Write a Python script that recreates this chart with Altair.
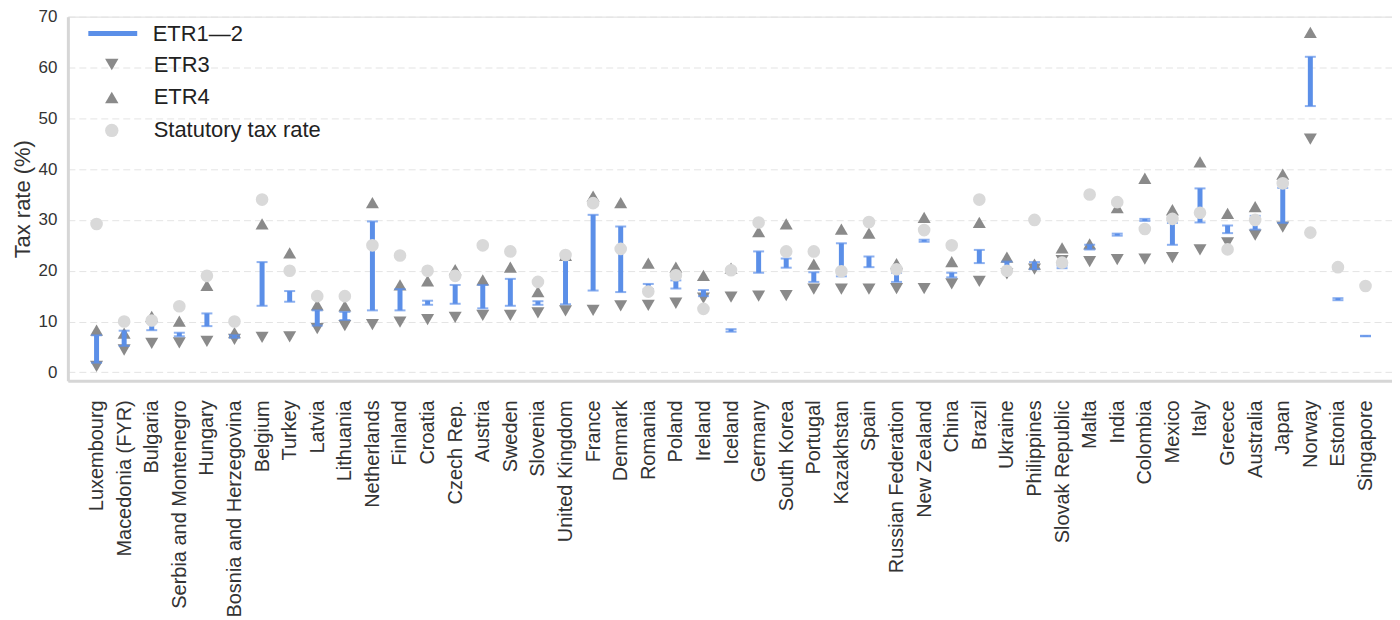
import altair as alt
import pandas as pd

countries = [
    "Luxembourg", "Macedonia (FYR)", "Bulgaria", "Serbia and Montenegro", "Hungary",
    "Bosnia and Herzegovina", "Belgium", "Turkey", "Latvia", "Lithuania", "Netherlands",
    "Finland", "Croatia", "Czech Rep.", "Austria", "Sweden", "Slovenia", "United Kingdom",
    "France", "Denmark", "Romania", "Poland", "Ireland", "Iceland", "Germany",
    "South Korea", "Portugal", "Kazakhstan", "Spain", "Russian Federation", "New Zealand",
    "China", "Brazil", "Ukraine", "Philippines", "Slovak Republic", "Malta", "India",
    "Colombia", "Mexico", "Italy", "Greece", "Australia", "Japan", "Norway", "Estonia",
    "Singapore",
]
etr1 = [1.9, 5.2, 8.3, 7.1, 9.1, 6.8, 13.1, 13.9, 9.2, 10.3, 12.2, 12.2, 13.3, 13.5, 12.6,
        13.1, 13.3, 13.4, 16.1, 15.8, 16.4, 16.5, 15.0, 8.0, 19.6, 20.6, 17.8, 18.9, 20.7,
        17.8, 25.7, 18.7, 21.5, 19.9, 20.3, 20.5, 24.2, 26.9, 29.8, 25.1, 29.5, 27.4, 28.1,
        29.4, 52.4, 14.2, 7.1]
etr2 = [7.3, 8.2, 9.8, 7.8, 11.6, 7.3, 21.7, 16.0, 12.2, 11.9, 29.7, 16.4, 14.1, 17.2, 17.2,
        18.4, 14.0, 22.7, 31.0, 28.7, 17.4, 18.1, 16.2, 8.5, 23.8, 22.4, 19.7, 25.4, 22.8,
        19.6, 26.1, 19.6, 24.1, 21.8, 21.7, 21.0, 25.1, 27.3, 30.2, 29.4, 36.2, 28.9, 30.8,
        36.3, 62.1, 14.6, 7.2]
etr3 = [1.2, 4.4, 5.7, 5.8, 6.1, 6.5, 6.9, 7.0, 8.6, 9.2, 9.4, 9.9, 10.4, 10.8, 11.2,
        11.2, 11.7, 12.1, 12.2, 13.1, 13.2, 13.6, 14.6, 14.8, 15.0, 15.1, 16.4, 16.4, 16.4,
        16.5, 16.5, 17.4, 17.9, 19.4, 20.3, 22.0, 21.8, 22.2, 22.3, 22.6, 24.1, 25.5, 27.0,
        28.6, 45.9, None, None]
etr4 = [8.3, 7.7, 11.0, 10.1, 17.1, 7.8, 29.2, 23.5, 13.3, 13.1, 33.4, 17.2, 18.0, 20.2, 18.2,
        20.7, 15.9, 23.0, 34.7, 33.4, 21.5, 20.7, 19.1, 20.5, 27.7, 29.2, 21.3, 28.2, 27.4,
        21.4, 30.5, 21.8, 29.5, 22.7, 21.3, 24.5, 25.3, 32.4, 38.2, 32.0, 41.4, 31.3, 32.6,
        39.0, 66.9, None, None]
statutory = [29.2, 10.0, 10.2, 13.0, 19.0, 10.0, 34.0, 20.0, 15.0, 15.0, 25.0, 23.0, 20.0,
             19.0, 25.0, 23.8, 17.8, 23.1, 33.3, 24.3, 15.9, 19.1, 12.5, 20.1, 29.5, 23.8,
             23.8, 19.9, 29.6, 20.3, 28.0, 25.0, 34.0, 20.0, 30.0, 21.6, 35.0, 33.5, 28.2,
             30.2, 31.4, 24.2, 30.0, 37.2, 27.5, 20.7, 17.0]

BLUE = "#5b8fe8"
GRAY = "#8a8a8a"
LIGHT = "#d9d9d9"
FONT = "Liberation Sans"

wide = pd.DataFrame({"country": countries, "etr1": etr1, "etr2": etr2})
tri_df = pd.concat([
    pd.DataFrame({"country": countries, "value": etr3, "series": "ETR3"}),
    pd.DataFrame({"country": countries, "value": etr4, "series": "ETR4"}),
]).dropna()
stat_df = pd.DataFrame({"country": countries, "value": statutory, "series": "Statutory tax rate"})

x_enc = alt.X(
    "country:N", sort=countries,
    scale=alt.Scale(type="point", padding=2.27, align=0.52),
    axis=alt.Axis(title=None, labelAngle=-90, labelFontSize=20, labelColor="#333333",
                  labelPadding=19, ticks=False, domainColor="#d6d6d6", domainWidth=3,
                  labelFont=FONT, grid=False, labelLimit=400),
)
y_scale = alt.Scale(domain=[-1.67, 70], nice=False, zero=False)
y_axis = alt.Axis(title="Tax rate (%)", values=list(range(0, 80, 10)), titleFontSize=22,
                  titleFontWeight="normal", titleColor="#333333", titleFont=FONT,
                  titlePadding=4, labelFontSize=17, labelColor="#333333", labelFont=FONT,
                  labelPadding=11, ticks=False, domainColor="#d6d6d6", domainWidth=3,
                  grid=True, gridColor="#e4e4e4", gridDash=[7, 4], gridWidth=1)

ser_domain = ["ETR3", "ETR4", "Statutory tax rate"]
shape_scale = alt.Scale(domain=ser_domain, range=["triangle-down", "triangle-up", "circle"])
color_scale = alt.Scale(domain=ser_domain, range=[GRAY, GRAY, LIGHT])
pt_legend = alt.Legend(title=None, orient="none", legendX=33, legendY=37, labelFontSize=22,
                       labelColor="#222222", labelFont=FONT, symbolSize=180, labelLimit=400,
                       labelOffset=31, rowPadding=11, symbolStrokeWidth=0, padding=0)

tri = alt.Chart(tri_df).mark_point(filled=True, size=170, opacity=1).encode(
    x=x_enc,
    y=alt.Y("value:Q", scale=y_scale, axis=y_axis),
    shape=alt.Shape("series:N", scale=shape_scale, legend=pt_legend),
    color=alt.Color("series:N", scale=color_scale, legend=pt_legend),
)

bars = alt.Chart(wide).transform_calculate(bar_series="'ETR1—2'").mark_rule(
    color=BLUE, strokeWidth=5).encode(
    x=x_enc,
    y=alt.Y("etr1:Q", scale=y_scale),
    y2="etr2:Q",
    opacity=alt.Opacity(
        "bar_series:O", scale=alt.Scale(domain=["ETR1—2"], range=[1]),
        legend=alt.Legend(title=None, orient="none", legendX=18, legendY=-10, labelFontSize=22,
                          labelColor="#222222", labelFont=FONT, symbolType="stroke",
                          symbolSize=2401, symbolStrokeColor=BLUE, symbolStrokeWidth=5,
                          labelOffset=13, padding=0, labelLimit=400),
    ),
)

caps_lo = alt.Chart(wide).mark_tick(color=BLUE, size=11, thickness=2).encode(
    x=x_enc, y=alt.Y("etr1:Q", scale=y_scale))
caps_hi = alt.Chart(wide).mark_tick(color=BLUE, size=11, thickness=2).encode(
    x=x_enc, y=alt.Y("etr2:Q", scale=y_scale))

circles = alt.Chart(stat_df).mark_point(filled=True, size=160, opacity=1).encode(
    x=x_enc,
    y=alt.Y("value:Q", scale=y_scale),
    shape=alt.Shape("series:N", scale=shape_scale, legend=pt_legend),
    color=alt.Color("series:N", scale=color_scale, legend=pt_legend),
)

chart = alt.layer(tri, bars, caps_lo, caps_hi, circles).properties(
    width=1327, height=365,
    autosize=alt.AutoSizeParams(type="none"),
    padding={"left": 60, "top": 8, "right": 0, "bottom": 236},
).configure_view(stroke=None).configure(font=FONT)

chart.save("out.html", embed_options={"renderer": "svg", "actions": False})
